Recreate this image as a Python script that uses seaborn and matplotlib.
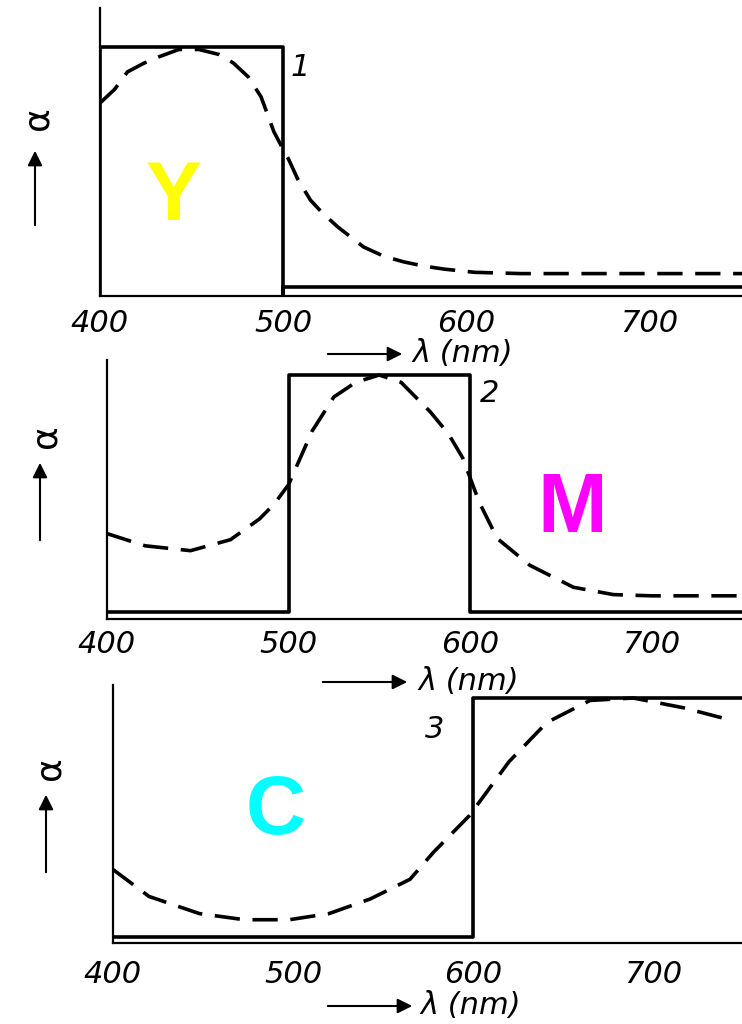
import numpy as np
import matplotlib
matplotlib.use("Agg")
import matplotlib.pyplot as plt
import seaborn as sns

sns.set_style("white")
plt.rcParams['font.family'] = ['DejaVu Sans']
plt.rcParams['text.color'] = 'black'

# Ideal (solid) and real (dashed) absorption curves of Y, M, C filters
ideal1_wl = [400, 400, 500, 500, 500, 751]
ideal1_a = [0, 1.0, 1.0, 0, 0.035, 0.035]
real1_wl = [400, 408, 415, 424, 432, 443, 454, 465, 473, 481, 488, 495, 500, 503, 508,
            515, 522, 530, 544, 555, 566, 577, 588, 605, 630, 700, 751]
real1_a = [0.775, 0.83, 0.90, 0.935, 0.96, 0.99, 0.99, 0.97, 0.935, 0.88, 0.80, 0.66, 0.59, 0.55, 0.47,
           0.385, 0.33, 0.277, 0.197, 0.16, 0.137, 0.12, 0.108, 0.095, 0.09, 0.09, 0.09]

ideal2_wl = [400, 500, 500, 600, 600, 750]
ideal2_a = [0.03, 0.03, 1.0, 1.0, 0.03, 0.03]
real2_wl = [400, 421, 446, 468, 484, 492, 500, 513, 525, 537, 550, 562, 578, 588, 596,
            605, 615, 633, 657, 679, 700, 750]
real2_a = [0.35, 0.30, 0.28, 0.325, 0.41, 0.47, 0.55, 0.77, 0.91, 0.97, 1.0, 0.97, 0.85, 0.76, 0.66,
           0.48, 0.33, 0.22, 0.13, 0.10, 0.095, 0.095]

ideal3_wl = [400, 600, 600, 750]
ideal3_a = [0.025, 0.025, 1.0, 1.0]
real3_wl = [400, 420, 448, 473, 498, 520, 543, 565, 578, 598, 610, 620, 641, 665, 689, 717, 743]
real3_a = [0.30, 0.19, 0.12, 0.095, 0.095, 0.12, 0.18, 0.26, 0.37, 0.52, 0.64, 0.74, 0.90, 0.99, 1.0, 0.96, 0.91]

ticks = [400, 500, 600, 700]
tick_labels = ['400', '500', '600', '700']

W, H = 742, 1024


def px(x, y):
    return (x / W, 1 - y / H)


fig = plt.figure(figsize=(7.42, 10.24), dpi=100)

# (left px, bottom px, top px, px per nm, label pad, data)
panels = [
    (100, 296, 8, 1.83, 9, ideal1_wl, ideal1_a, real1_wl, real1_a),
    (107, 619, 360, 1.815, 8, ideal2_wl, ideal2_a, real2_wl, real2_a),
    (113, 943, 685, 1.80, 12, ideal3_wl, ideal3_a, real3_wl, real3_a),
]
box_top = [47, 375, 698]

for i, (left, bot, top, scale, pad, iwl, ia, rwl, ra) in enumerate(panels):
    ax = fig.add_axes([left / W, 1 - bot / H, (W - left) / W, (bot - top) / H])
    sns.lineplot(x=iwl, y=ia, ax=ax, color='black', linewidth=2.6,
                 estimator=None, sort=False)
    sns.lineplot(x=rwl, y=ra, ax=ax, color='black', linewidth=2.6,
                 linestyle=(0, (7, 3.5)), estimator=None, sort=False)
    ax.set_xlim(400, 400 + (W - left) / scale)
    ax.set_ylim(0, (bot - top) / (bot - box_top[i]))
    ax.set_xticks(ticks)
    ax.set_xticklabels(tick_labels)
    ax.set_yticks([])
    ax.tick_params(axis='x', direction='in', length=8, width=1.3, pad=pad,
                   labelsize=22, colors='black')
    for lbl in ax.get_xticklabels():
        lbl.set_fontstyle('italic')
    for s in ['top', 'right']:
        ax.spines[s].set_visible(False)
    for s in ['left', 'bottom']:
        ax.spines[s].set_linewidth(1.6)
        ax.spines[s].set_color('black')
    ax.set_xlabel('')
    ax.set_ylabel('')
    ax.patch.set_alpha(0)

# axis captions with arrows
xlab = [(325, 405, 354, 412), (320, 410, 682, 418), (325, 415, 1006, 420)]
for x0, x1, y, tx in xlab:
    fig.add_artist(matplotlib.patches.FancyArrowPatch(
        px(x0, y), px(x1, y), transform=fig.transFigure, arrowstyle='-|>',
        mutation_scale=22, lw=1.5, color='black'))
    fig.text(*px(tx, y), 'λ (nm)', fontsize=22, style='italic', color='black',
             ha='left', va='center')

ylab = [(38, 118, 35, 228, 148), (45, 436, 40, 543, 460), (49, 768, 46, 875, 792)]
for ax_, ay, arx, y0, y1 in ylab:
    fig.text(*px(ax_, ay), 'α', fontsize=26, rotation=90, color='black',
             ha='center', va='center')
    fig.add_artist(matplotlib.patches.FancyArrowPatch(
        px(arx, y0), px(arx, y1), transform=fig.transFigure, arrowstyle='-|>',
        mutation_scale=22, lw=1.5, color='black'))

# curve numbers
for txt, x, y in [('1', 300, 68), ('2', 490, 393), ('3', 435, 730)]:
    fig.text(*px(x, y), txt, fontsize=22, style='italic', color='black',
             ha='center', va='center')

# colour letters
for txt, col, x, y in [('Y', '#FFFF00', 173, 198), ('M', '#FF00FF', 572, 510), ('C', '#00FFFF', 276, 812)]:
    fig.text(*px(x, y), txt, fontsize=60, fontweight='bold', color=col,
             family=['Liberation Sans', 'DejaVu Sans'], ha='center', va='center')

fig.savefig('out.png', dpi=100, facecolor='white')
